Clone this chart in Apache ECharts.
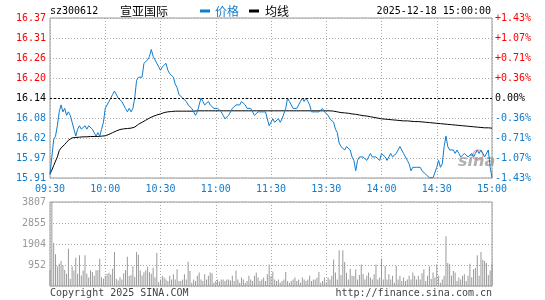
<!DOCTYPE html>
<html><head><meta charset="utf-8">
<script src="https://cdn.jsdelivr.net/npm/echarts@6/dist/echarts.min.js"></script>
<style>html,body{margin:0;padding:0;background:#fff}#c{width:545px;height:300px}</style>
</head><body><div id="c"></div>
<script>
const symbolCode = 'sz300612';
const stockName = '宣亚国际';
const stamp = '2025-12-18 15:00:00';
const legendNames = ['价格', '均线'];
const prevClose = 16.14;
const priceMin = 15.9092;
const priceMax = 16.3708;
const priceTicks = ['15.91','15.97','16.02','16.08','16.14','16.20','16.26','16.31','16.37'];
const pctTicks = ['-1.43%','-1.07%','-0.71%','-0.36%','0.00%','+0.36%','+0.71%','+1.07%','+1.43%'];
const volTicks = ['', '952', '1904', '2855', '3807'];
const volMax = 3807;
const sessions = [['09:30', '11:30'], ['13:01', '15:00']];

const price = [
15.92,15.97,16.02,16.03,16.06,16.10,16.12,16.10,16.11,16.09,
16.10,16.09,16.07,16.05,16.03,16.05,16.06,16.05,16.05,16.06,
16.05,16.06,16.06,16.05,16.04,16.03,16.04,16.03,16.05,16.07,
16.11,16.12,16.13,16.14,16.15,16.16,16.16,16.14,16.14,16.13,
16.13,16.11,16.10,16.11,16.10,16.11,16.14,16.19,16.20,16.20,
16.20,16.24,16.24,16.25,16.26,16.28,16.26,16.25,16.24,16.23,
16.22,16.23,16.23,16.24,16.22,16.21,16.21,16.20,16.18,16.17,
16.15,16.15,16.14,16.14,16.13,16.12,16.12,16.11,16.10,16.09,
16.10,16.12,16.14,16.13,16.12,16.12,16.13,16.12,16.12,16.11,
16.11,16.11,16.11,16.10,16.09,16.08,16.08,16.09,16.10,16.11,
16.11,16.12,16.12,16.12,16.13,16.13,16.12,16.11,16.11,16.11,
16.11,16.09,16.09,16.10,16.10,16.10,16.10,16.10,16.08,16.06,
16.06,16.08,16.07,16.07,16.08,16.07,16.08,16.08,16.11,16.14,
16.13,16.12,16.11,16.11,16.11,16.12,16.13,16.14,16.13,16.14,
16.13,16.12,16.10,16.10,16.10,16.10,16.10,16.10,16.11,16.10,
16.10,16.09,16.08,16.08,16.07,16.05,16.04,16.01,16.00,16.00,
15.99,16.00,16.00,15.99,15.97,15.96,15.93,15.96,15.97,15.97,
15.97,15.97,15.96,15.97,15.98,15.97,15.97,15.97,15.97,15.96,
15.98,15.98,15.97,15.96,15.97,15.98,15.97,15.97,15.98,15.99,
16.00,15.99,15.98,15.97,15.96,15.95,15.93,15.94,15.94,15.94,
15.94,15.94,15.93,15.93,15.92,15.92,15.91,15.91,15.91,15.91,
15.94,15.96,15.94,15.95,16.00,16.03,16.00,15.99,15.99,15.99,
15.98,15.99,15.98,15.97,15.97,15.98,15.98,15.97,15.97,15.98,
15.97,15.98,15.99,15.98,15.99,15.99,15.97,15.97,15.99,15.94,15.91
];

const avgPrice = [
15.921,15.932,15.945,15.958,15.970,15.988,15.996,16.001,16.006,16.012,
16.018,16.022,16.025,16.026,16.026,16.027,16.027,16.027,16.028,16.028,
16.028,16.028,16.029,16.029,16.029,16.029,16.029,16.030,16.030,16.030,
16.031,16.033,16.035,16.037,16.040,16.043,16.045,16.047,16.049,16.050,
16.051,16.052,16.052,16.053,16.053,16.054,16.056,16.060,16.064,16.067,
16.070,16.073,16.076,16.079,16.082,16.085,16.087,16.089,16.091,16.093,
16.094,16.096,16.098,16.099,16.100,16.101,16.101,16.102,16.102,16.102,
16.102,16.102,16.102,16.102,16.102,16.102,16.102,16.102,16.102,16.102,
16.103,16.103,16.103,16.103,16.103,16.103,16.103,16.103,16.103,16.103,
16.103,16.103,16.103,16.103,16.103,16.103,16.103,16.103,16.103,16.103,
16.103,16.103,16.103,16.103,16.103,16.103,16.103,16.103,16.103,16.103,
16.103,16.103,16.103,16.103,16.103,16.103,16.103,16.103,16.103,16.103,
16.103,16.103,16.103,16.103,16.103,16.103,16.103,16.103,16.103,16.103,
16.103,16.103,16.103,16.103,16.103,16.103,16.103,16.103,16.103,16.103,
16.103,16.103,16.103,16.103,16.103,16.103,16.103,16.103,16.103,16.103,
16.103,16.103,16.103,16.102,16.102,16.101,16.100,16.099,16.098,16.097,
16.097,16.096,16.096,16.095,16.094,16.094,16.093,16.092,16.091,16.090,
16.089,16.089,16.088,16.087,16.086,16.085,16.084,16.083,16.082,16.081,
16.080,16.079,16.079,16.078,16.078,16.077,16.077,16.076,16.076,16.075,
16.075,16.075,16.074,16.074,16.074,16.073,16.073,16.073,16.072,16.072,
16.072,16.071,16.071,16.070,16.070,16.069,16.069,16.068,16.068,16.067,
16.067,16.066,16.066,16.065,16.065,16.064,16.064,16.063,16.063,16.062,
16.062,16.061,16.061,16.060,16.060,16.059,16.059,16.058,16.058,16.057,
16.057,16.057,16.056,16.056,16.055,16.055,16.054,16.054,16.054,16.053,16.053
];

const volume = [
720,3807,1950,1435,890,1010,1130,940,720,560,
1690,330,900,700,1280,560,1390,480,700,1390,
560,380,700,640,460,700,720,1240,400,330,
450,560,600,520,780,1540,330,250,400,300,
580,720,1320,450,500,900,420,1540,1420,700,
480,620,700,870,620,550,830,400,1500,180,
300,450,380,300,230,460,300,530,300,760,
230,230,300,530,300,1100,680,150,300,230,
460,610,300,230,530,300,460,610,580,150,
230,300,200,300,300,230,300,300,250,460,
230,700,300,150,380,300,150,230,460,300,
230,460,610,380,230,300,380,230,530,980,
450,660,300,230,300,150,230,300,640,230,
150,230,300,380,230,300,150,380,300,230,
300,460,230,300,300,380,640,150,230,380,
170,380,300,460,1200,610,300,1616,500,1616,
1090,600,300,780,460,450,760,300,500,980,
540,300,460,610,380,300,530,980,300,380,
1250,300,920,300,530,300,460,150,920,300,
460,230,380,230,300,460,300,610,460,300,
460,300,580,760,230,460,890,320,610,380,
990,460,150,300,460,2250,1040,990,460,680,
610,230,380,300,460,530,230,460,1010,400,
760,815,1390,460,1540,1190,1130,1040,500,700,990
];

// minute categories for the two trading sessions
const times = [];
function toMin(s){const p=s.split(':');return +p[0]*60 + +p[1];}
function fmt(m){const h=Math.floor(m/60),mm=m%60;return (h<10?'0':'')+h+':'+(mm<10?'0':'')+mm;}
sessions.forEach(function(s){for(let m=toMin(s[0]);m<=toMin(s[1]);m++) times.push(fmt(m));});

const BLUE = '#0f7ccc';
const RED = '#ff0000';
const MONO = '"DejaVu Sans Mono", "Liberation Mono", monospace';
const CJK = '"Noto Sans CJK SC", sans-serif';
const grid0 = {left: 50, top: 18, width: 442, height: 160};
const grid1 = {left: 50, top: 202, width: 442, height: 84};
const dotted = {color: '#aaaaaa', width: 1, type: [1, 2]};
const every30 = function (i) { return i % 30 === 0; };
function sideColor(i) { return i < 4 ? BLUE : (i === 4 ? '#000' : RED); }

const chart = echarts.init(document.getElementById('c'), null, {renderer: 'canvas'});
chart.setOption({
  animation: false,
  backgroundColor: '#fff',
  grid: [
    Object.assign({show: true, borderColor: '#999', borderWidth: 1, backgroundColor: 'transparent'}, grid0),
    Object.assign({show: true, borderColor: '#999', borderWidth: 1, backgroundColor: 'transparent'}, grid1)
  ],
  xAxis: [
    {gridIndex: 0, type: 'category', data: times, boundaryGap: false,
     axisLine: {show: false}, axisTick: {show: false},
     axisLabel: {interval: every30, color: BLUE, fontFamily: MONO, fontSize: 10, margin: 6},
     splitLine: {show: true, interval: every30, lineStyle: dotted}},
    {gridIndex: 1, type: 'category', data: times, boundaryGap: false,
     axisLine: {show: false}, axisTick: {show: false}, axisLabel: {show: false},
     splitLine: {show: true, interval: every30, lineStyle: dotted}}
  ],
  yAxis: [
    {gridIndex: 0, type: 'category', data: priceTicks, boundaryGap: false, position: 'left',
     axisLine: {show: false}, axisTick: {show: false},
     axisLabel: {color: function (v, i) { return sideColor(i); }, fontFamily: MONO, fontSize: 10, margin: 4},
     splitLine: {show: true, lineStyle: dotted}},
    {gridIndex: 0, type: 'category', data: pctTicks, boundaryGap: false, position: 'right',
     axisLine: {show: false}, axisTick: {show: false},
     axisLabel: {color: function (v, i) { return sideColor(i); }, fontFamily: MONO, fontSize: 10, margin: 3},
     splitLine: {show: false}},
    {gridIndex: 0, type: 'value', min: priceMin, max: priceMax, show: false},
    {gridIndex: 1, type: 'category', data: volTicks, boundaryGap: false, position: 'left',
     axisLine: {show: false}, axisTick: {show: false},
     axisLabel: {color: '#999', fontFamily: MONO, fontSize: 10, margin: 4},
     splitLine: {show: true, lineStyle: dotted}},
    {gridIndex: 1, type: 'value', min: 0, max: volMax, show: false}
  ],
  series: [
    {name: legendNames[0], type: 'line', xAxisIndex: 0, yAxisIndex: 2, data: price,
     showSymbol: false, symbol: 'none', lineStyle: {color: BLUE, width: 1}, itemStyle: {color: BLUE}, z: 4,
     markLine: {silent: true, symbol: ['none', 'none'], label: {show: false},
       lineStyle: {color: '#000', type: [2, 2], width: 1}, data: [{yAxis: prevClose}]}},
    {name: legendNames[1], type: 'line', xAxisIndex: 0, yAxisIndex: 2, data: avgPrice,
     showSymbol: false, symbol: 'none', lineStyle: {color: '#000', width: 1}, itemStyle: {color: '#000'}, z: 3},
    {name: 'volume', type: 'bar', xAxisIndex: 1, yAxisIndex: 4, data: volume,
     barWidth: 1, itemStyle: {color: '#999'}}
  ],
  graphic: [
    {type: 'text', x: 50, y: 11, style: {text: symbolCode, font: '10px ' + MONO, fill: '#000', verticalAlign: 'middle'}},
    {type: 'text', x: 120, y: 11, style: {text: stockName, font: '12px ' + CJK, fill: '#000', verticalAlign: 'middle'}},
    {type: 'rect', shape: {x: 200, y: 9.5, width: 10, height: 3}, style: {fill: BLUE}},
    {type: 'text', x: 215, y: 11, style: {text: legendNames[0], font: '12px ' + CJK, fill: BLUE, verticalAlign: 'middle'}},
    {type: 'rect', shape: {x: 249, y: 9.5, width: 10, height: 3}, style: {fill: '#000'}},
    {type: 'text', x: 265, y: 11, style: {text: legendNames[1], font: '12px ' + CJK, fill: '#000', verticalAlign: 'middle'}},
    {type: 'text', x: 491, y: 11, style: {text: stamp, font: '10px ' + MONO, fill: '#000', align: 'right', verticalAlign: 'middle'}},
    {type: 'text', x: 50, y: 293, style: {text: 'Copyright 2025 SINA.COM', font: '10px ' + MONO, fill: '#444', verticalAlign: 'middle'}},
    {type: 'text', x: 492, y: 293, style: {text: 'http://finance.sina.com.cn', font: '10px ' + MONO, fill: '#444', align: 'right', verticalAlign: 'middle'}},
    {type: 'circle', shape: {cx: 478, cy: 155, r: 5}, style: {fill: 'none', stroke: 'rgba(240,140,140,0.7)', lineWidth: 1.5}, z: 1},
    {type: 'text', x: 458, y: 162, style: {text: 'sina', font: 'italic bold 16px "DejaVu Sans", sans-serif', fill: 'rgba(150,150,150,0.75)', verticalAlign: 'middle'}, z: 1}
  ]
});
</script>
</body></html>
